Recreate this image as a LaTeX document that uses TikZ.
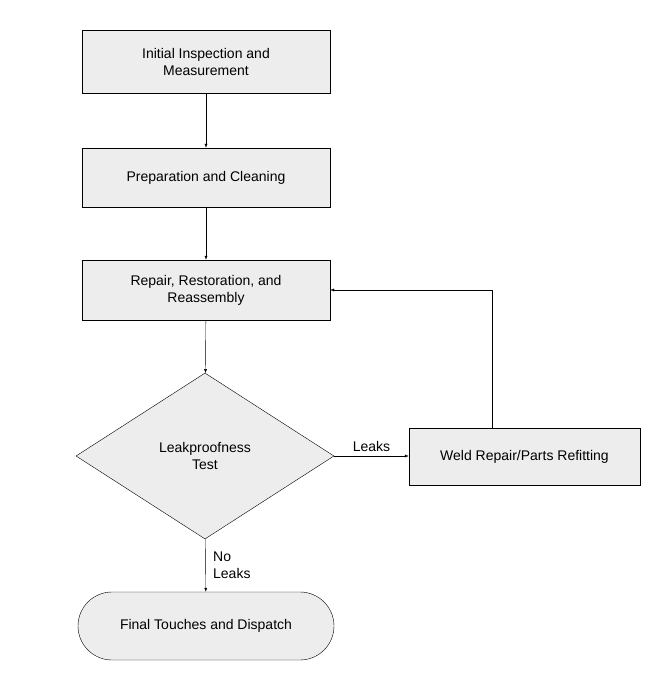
\documentclass[tikz,border=0pt]{standalone}
\usepackage{fontspec}
\setmainfont{Liberation Sans}
\usetikzlibrary{shapes.geometric,arrows.meta,positioning}

\tikzset{
  stepbox/.style={draw, fill=black!7, minimum width=248pt, minimum height=60pt, align=center, font=\fontsize{14}{17}\selectfont},
  testbox/.style={draw, fill=black!7, diamond, aspect=1.55, minimum width=258pt, minimum height=166pt, inner sep=0pt, align=center, font=\fontsize{14}{17}\selectfont},
  endbox/.style={draw, fill=black!7, rounded corners=34pt, minimum width=256pt, minimum height=68pt, align=center, font=\fontsize{14}{17}\selectfont},
  flow/.style={-{Latex[length=4pt,width=3pt]}},
  lbl/.style={font=\fontsize{14}{17}\selectfont, align=left}
}

\begin{document}
\begin{tikzpicture}[x=1pt,y=-1pt]
\useasboundingbox (0,0) rectangle (654,676);

\node[stepbox, minimum height=63pt] (inspect) at (206,61.5) {Initial Inspection and\\Measurement};
\node[stepbox, minimum height=59pt] (clean) at (206,177.5) {Preparation and Cleaning};
\node[stepbox] (repair) at (206,290) {Repair, Restoration, and\\Reassembly};
\node[testbox] (test) at (205,456) {Leakproofness\\Test};
\node[stepbox, minimum width=231pt, minimum height=57pt] (weld) at (524.5,456.5) {Weld Repair/Parts Refitting};
\node[endbox] (final) at (206,626) {Final Touches and Dispatch};

% main line
\draw[flow] (inspect) -- (clean);
\draw[flow] (clean) -- (repair);
\draw[flow] (repair) -- (test);
\draw[flow] (test) -- node[lbl, right=4pt] {No\\Leaks} (final);

% loop back
\coordinate (up) at (492,428);
\draw[flow] (test.east) -- node[lbl, above=1pt] {Leaks} (weld.west |- test.east);
\draw[flow] (up) |- (repair.east);
\end{tikzpicture}
\end{document}
